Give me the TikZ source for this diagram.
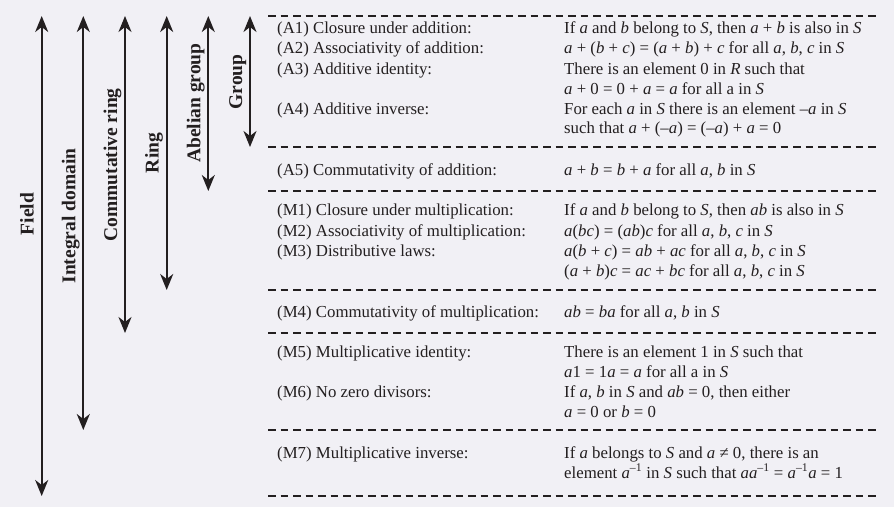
\documentclass[tikz,border=0pt]{standalone}
\usepackage{fontspec}
\setmainfont{Liberation Serif}
\usetikzlibrary{arrows.meta}
\definecolor{paper}{RGB}{241,240,245}
\definecolor{ink}{RGB}{35,31,32}
\def \spanWidth {2pt}
\def \topY {16}
\newcommand\mv[1]{\textit{#1}}
\newcommand\inv{\textsuperscript{–1}}

\begin{document}
\begin{tikzpicture}[x=1pt, y=-1pt,
      axiom/.style={anchor=base west, inner sep=0pt, text=ink, font=\fontsize{16.8}{20}\selectfont},
      structure/.style={rotate=90, anchor=base, inner sep=0pt, text=ink, font=\fontsize{19.5}{23}\selectfont\bfseries},
      span/.style={draw=ink, line width=\spanWidth, {Stealth[length=16pt,width=13pt,inset=5pt]}-{Stealth[length=16pt,width=13pt,inset=5pt]}},
      sep/.style={draw=ink, line width=1.6pt, dash pattern=on 7.5pt off 5pt}]
   \fill[paper] (0,0) rectangle (894,507);
   \useasboundingbox (0,0) rectangle (894,507);

   \foreach \y in {16,147,191,290,333,430,496}
      \draw[sep] (268,\y) -- (876,\y);

   \foreach \name/\x/\yb in {field/41.7/496, domain/83.3/430, comring/125/333, ring/166.7/290, abelian/208.3/191, group/250/147} {
      \coordinate (\name top) at (\x,\topY);
      \coordinate (\name bot) at (\x,\yb);
      \draw[span] (\name top) -- (\name bot);
   }

   \node[structure] (field) at (33.5,214) {Field};
   \node[structure] (domain) at (75.3,216) {Integral domain};
   \node[structure] (comring) at (117,165) {Commutative ring};
   \node[structure] (ring) at (158.7,153) {Ring};
   \node[structure] (abelian) at (200.3,103) {Abelian group};
   \node[structure] (group) at (242,82) {Group};

   \node[axiom] (a1) at (277,33) {(A1) Closure under addition:};
   \node[axiom] (a2) at (277,53) {(A2) Associativity of addition:};
   \node[axiom] (a3) at (277,74) {(A3) Additive identity:};
   \node[axiom] (a4) at (277,114) {(A4) Additive inverse:};
   \node[axiom] (a5) at (277,175) {(A5) Commutativity of addition:};
   \node[axiom] (m1) at (277,215) {(M1) Closure under multiplication:};
   \node[axiom] (m2) at (277,236) {(M2) Associativity of multiplication:};
   \node[axiom] (m3) at (277,256) {(M3) Distributive laws:};
   \node[axiom] (m4) at (277,317) {(M4) Commutativity of multiplication:};
   \node[axiom] (m5) at (277,357) {(M5) Multiplicative identity:};
   \node[axiom] (m6) at (277,397) {(M6) No zero divisors:};
   \node[axiom] (m7) at (277,458) {(M7) Multiplicative inverse:};

   \node[axiom] (a1 rule) at (564,33) {If \mv{a} and \mv{b} belong to \mv{S}, then \mv{a} + \mv{b} is also in \mv{S}};
   \node[axiom] (a2 rule) at (564,53) {\mv{a} + (\mv{b} + \mv{c}) = (\mv{a} + \mv{b}) + \mv{c} for all \mv{a}, \mv{b}, \mv{c} in \mv{S}};
   \node[axiom] (a3 rule) at (564,74) {There is an element 0 in \mv{R} such that};
   \node[axiom] (a3 rule2) at (564,94) {\mv{a} + 0 = 0 + \mv{a} = \mv{a} for all a in \mv{S}};
   \node[axiom] (a4 rule) at (564,114) {For each \mv{a} in \mv{S} there is an element –\mv{a} in \mv{S}};
   \node[axiom] (a4 rule2) at (564,133) {such that \mv{a} + (–\mv{a}) = (–\mv{a}) + \mv{a} = 0};
   \node[axiom] (a5 rule) at (564,175) {\mv{a} + \mv{b} = \mv{b} + \mv{a} for all \mv{a}, \mv{b} in \mv{S}};
   \node[axiom] (m1 rule) at (564,215) {If \mv{a} and \mv{b} belong to \mv{S}, then \mv{ab} is also in \mv{S}};
   \node[axiom] (m2 rule) at (564,236) {\mv{a}(\mv{bc}) = (\mv{ab})\mv{c} for all \mv{a}, \mv{b}, \mv{c} in \mv{S}};
   \node[axiom] (m3 rule) at (564,256) {\mv{a}(\mv{b} + \mv{c}) = \mv{ab} + \mv{ac} for all \mv{a}, \mv{b}, \mv{c} in \mv{S}};
   \node[axiom] (m3 rule2) at (564,276) {(\mv{a} + \mv{b})\mv{c} = \mv{ac} + \mv{bc} for all \mv{a}, \mv{b}, \mv{c} in \mv{S}};
   \node[axiom] (m4 rule) at (564,317) {\mv{ab} = \mv{ba} for all \mv{a}, \mv{b} in \mv{S}};
   \node[axiom] (m5 rule) at (564,357) {There is an element 1 in \mv{S} such that};
   \node[axiom] (m5 rule2) at (564,377) {\mv{a}1 = 1\mv{a} = \mv{a} for all a in \mv{S}};
   \node[axiom] (m6 rule) at (564,397) {If \mv{a}, \mv{b} in \mv{S} and \mv{ab} = 0, then either};
   \node[axiom] (m6 rule2) at (564,417) {\mv{a} = 0 or \mv{b} = 0};
   \node[axiom] (m7 rule) at (564,458) {If \mv{a} belongs to \mv{S} and \mv{a} ≠ 0, there is an};
   \node[axiom] (m7 rule2) at (564,478) {element \mv{a}\inv{} in \mv{S} such that \mv{aa}\inv{} = \mv{a}\inv\mv{a} = 1};
\end{tikzpicture}
\end{document}
